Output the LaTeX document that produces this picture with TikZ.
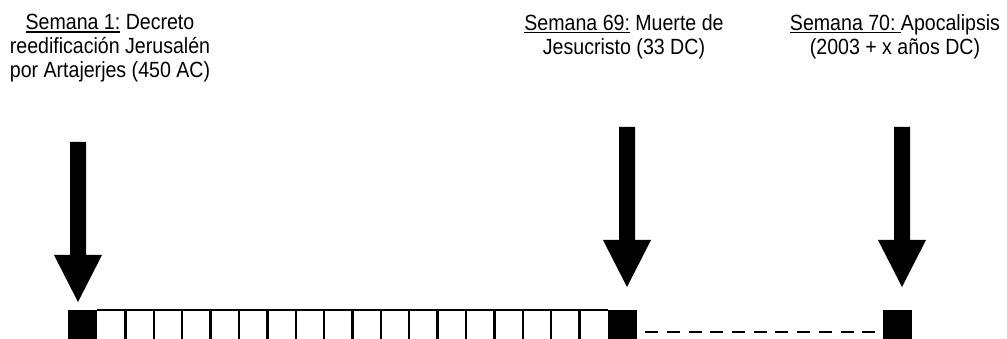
\documentclass[tikz,border=0pt]{standalone}
\usepackage{fontspec}
\setmainfont[FakeStretch=0.89]{Liberation Sans}
\newcommand\ulabel[1]{\setbox0\hbox{#1}\rlap{\rule[-3pt]{\wd0}{1.6pt}}\box0\relax}
\begin{document}
\begin{tikzpicture}[x=1pt,y=-1pt,
  lbl/.style={font=\fontsize{22}{24}\selectfont, align=center, inner sep=0pt, anchor=north},
  blk/.style={fill=black, draw=none, minimum width=29pt, minimum height=29pt, inner sep=0pt},
  cellline/.style={line width=2.4pt},
  blockarrow/.pic={\fill (-8,0) -- (-8,113) -- (-24,113) -- (0,160) -- (24,113) -- (8,113) -- (8,0) -- cycle;}]
\useasboundingbox (0,0) rectangle (1007,339);
% labels
\node[lbl] (lbl1) at (110,14) {\ulabel{Semana 1:} Decreto\\reedificación Jerusalén\\por Artajerjes (450 AC)};
\node[lbl] (lbl2) at (624,14) {\ulabel{Semana 69:} Muerte de\\Jesucristo (33 DC)};
\node[lbl] (lbl3) at (895,14) {\ulabel{Semana 70:\ }Apocalipsis\\(2003 + x años DC)};
% arrows
\pic (ar1) at (78,142) {blockarrow};
\pic (ar2) at (627,127) {blockarrow};
\pic (ar3) at (902,127) {blockarrow};
% black boxes
\node[blk] (b1) at (82.5,324.5) {};
\node[blk] (b2) at (622.5,324.5) {};
\node[blk] (b3) at (897,324.5) {};
% cells
\draw[line width=2pt] (b1.north east) -- (b2.north west);
\foreach \k in {1,...,17} {
  \draw[cellline] (97+28.39*\k,310) -- (97+28.39*\k,339);
}
% dashed connection
\draw[line width=2pt, dash pattern=on 13pt off 8.7pt] ([shift={(8,7.5)}]b2.east) -- ([shift={(-2,7.5)}]b3.west);
\end{tikzpicture}
\end{document}
